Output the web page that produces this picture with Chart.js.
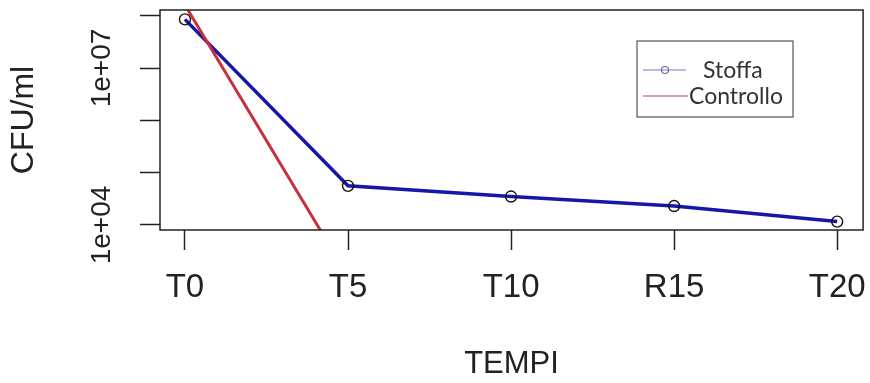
<!DOCTYPE html>
<html>
<head>
<meta charset="utf-8">
<script src="https://cdn.jsdelivr.net/npm/chart.js@4/dist/chart.umd.min.js"></script>
<style>
  html, body { margin: 0; padding: 0; background: #fff; }
  #wrap { width: 870px; height: 383px; position: relative; }
</style>
</head>
<body>
<div id="wrap"><canvas id="c" width="870" height="383"></canvas></div>
<script>
// ---- data ----
const xLabels = ['T0', 'T5', 'T10', 'R15', 'T20'];
const stoffa = [8.5e7, 5.6e4, 3.5e4, 2.3e4, 1.16e4];
const controllo = [1.6e8, 1050, null, null, null];
const yTickValues = [1e4, 1e5, 1e6, 1e7, 1e8];
const yTickLabels = ['1e+04', '', '', '1e+07', ''];
const seriesNames = ['Stoffa', 'Controllo'];
const xTitle = 'TEMPI';
const yTitle = 'CFU/ml';

const toPts = arr => arr.map((v, i) => ({ x: i, y: v }));

const framePlugin = {
  id: 'frame',
  afterDraw(chart) {
    const ctx = chart.ctx;
    const a = chart.chartArea;
    ctx.save();
    // plot box
    ctx.strokeStyle = '#222';
    ctx.lineWidth = 1.5;
    ctx.strokeRect(a.left, a.top, a.right - a.left, a.bottom - a.top);
    // y tick labels (rotated, like R)
    const ys = chart.scales.y;
    ctx.fillStyle = '#222';
    ctx.font = '28px "Liberation Sans", Arial, sans-serif';
    ctx.textAlign = 'center';
    ctx.textBaseline = 'middle';
    yTickValues.forEach((v, i) => {
      const lab = yTickLabels[i];
      if (!lab) return;
      const py = ys.getPixelForValue(v);
      ctx.save();
      ctx.translate(102, py);
      ctx.rotate(-Math.PI / 2);
      ctx.fillText(lab, 0, 0);
      ctx.restore();
    });
    // legend
    const lx = 637, ly = 41, lw = 156, lh = 76;
    ctx.fillStyle = '#fff';
    ctx.fillRect(lx, ly, lw, lh);
    ctx.strokeStyle = '#555';
    ctx.lineWidth = 1.2;
    ctx.strokeRect(lx, ly, lw, lh);
    // Stoffa sample
    ctx.strokeStyle = '#7a7ac8';
    ctx.lineWidth = 1.2;
    ctx.beginPath(); ctx.moveTo(643, 70); ctx.lineTo(686, 70); ctx.stroke();
    ctx.strokeStyle = '#6a6a9a';
    ctx.beginPath(); ctx.arc(665, 70, 3.5, 0, Math.PI * 2); ctx.stroke();
    // Controllo sample
    ctx.strokeStyle = '#c04048';
    ctx.beginPath(); ctx.moveTo(643, 96); ctx.lineTo(688, 96); ctx.stroke();
    ctx.fillStyle = '#333';
    ctx.font = '23px Lato, "Open Sans", sans-serif';
    ctx.textAlign = 'left';
    ctx.textBaseline = 'alphabetic';
    ctx.fillText(seriesNames[0], 703, 78);
    ctx.fillText(seriesNames[1], 689, 104);
    ctx.restore();
  }
};

new Chart(document.getElementById('c'), {
  type: 'line',
  data: {
    datasets: [
      {
        label: seriesNames[0],
        data: toPts(stoffa),
        borderColor: '#1616a8',
        borderWidth: 3.5,
        pointRadius: 5.5,
        pointBorderWidth: 1.4,
        pointBorderColor: '#111',
        pointBackgroundColor: 'rgba(0,0,0,0)',
        tension: 0,
        order: 1,
        clip: 0
      },
      {
        label: seriesNames[1],
        data: toPts(controllo),
        borderColor: '#c4333b',
        borderWidth: 3,
        pointRadius: 0,
        tension: 0,
        order: 0,
        clip: 0
      }
    ]
  },
  plugins: [framePlugin],
  options: {
    responsive: false,
    animation: false,
    layout: { padding: { left: 0, top: 10, right: 5, bottom: 0 } },
    plugins: { legend: { display: false }, tooltip: { enabled: false } },
    scales: {
      x: {
        type: 'linear',
        min: -0.153,
        max: 4.159,
        afterBuildTicks: s => { s.ticks = xLabels.map((_, i) => ({ value: i })); },
        afterFit: s => { s.height = 153; s.paddingLeft = 0; s.paddingRight = 0; },
        ticks: {
          callback: v => xLabels[v],
          font: { family: '"Liberation Sans", Arial, sans-serif', size: 33 },
          color: '#222',
          padding: 18,
          maxRotation: 0,
          autoSkip: false
        },
        grid: { drawOnChartArea: false, drawTicks: true, tickLength: 20, tickColor: '#222', tickWidth: 1.5 },
        border: { display: false },
        title: {
          display: true,
          text: xTitle,
          font: { family: '"Liberation Sans", Arial, sans-serif', size: 31 },
          color: '#222',
          padding: 0
        }
      },
      y: {
        type: 'logarithmic',
        min: 8017,
        max: 1.285e8,
        afterBuildTicks: s => { s.ticks = yTickValues.map(v => ({ value: v })); },
        afterFit: s => { s.width = 160; s.paddingTop = 0; s.paddingBottom = 0; },
        ticks: { display: false },
        grid: { drawOnChartArea: false, drawTicks: true, tickLength: 20, tickColor: '#222', tickWidth: 1.5 },
        border: { display: false },
        title: {
          display: true,
          text: yTitle,
          font: { family: '"Liberation Sans", Arial, sans-serif', size: 32 },
          color: '#222',
          padding: { top: 5, bottom: 0 }
        }
      }
    }
  }
});
</script>
</body>
</html>
